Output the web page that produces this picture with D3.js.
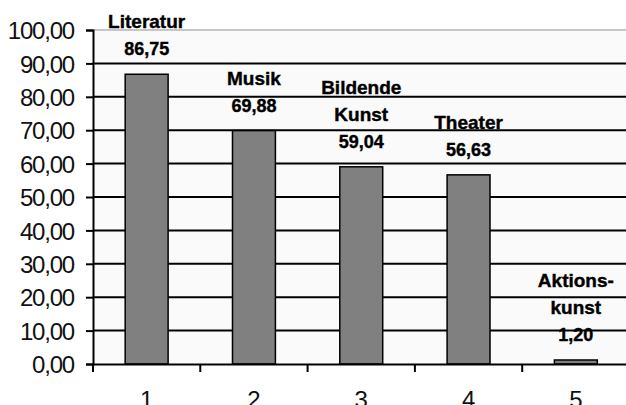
<!DOCTYPE html>
<html>
<head>
<meta charset="utf-8">
<script src="https://cdn.jsdelivr.net/npm/d3@7"></script>
<style>
  body { margin: 0; background: #fff; }
  text { font-family: "Liberation Sans", Arial, sans-serif; }
</style>
</head>
<body>
<div id="chart"></div>
<script>
const categories = [1, 2, 3, 4, 5];
const values = [86.75, 69.88, 59.04, 56.63, 1.20];
const names = [["Literatur"], ["Musik"], ["Bildende", "Kunst"], ["Theater"], ["Aktions-", "kunst"]];
const yTicks = [0, 10, 20, 30, 40, 50, 60, 70, 80, 90, 100];

const width = 626, height = 405;
const fmt = v => d3.format(".2f")(v).replace(".", ",");

const svg = d3.select('#chart')
    .append('svg')
    .attr('width', width)
    .attr('height', height);

const x = d3.scaleBand()
    .domain(categories)
    .range([93, 93 + 5 * 107.3])
    .padding(0);

const y = d3.scaleLinear()
    .domain([0, 100])
    .range([364, 30]);

// plot area
svg.append('rect')
    .attr('x', x.range()[0])
    .attr('y', y(100))
    .attr('width', width - x.range()[0])
    .attr('height', y(0) - y(100))
    .attr('fill', '#fafafa');

svg.append('line')
    .attr('x1', x.range()[0]).attr('x2', width)
    .attr('y1', y(100)).attr('y2', y(100))
    .attr('stroke', '#b4b4b4')
    .attr('stroke-width', 1.5);

// gridlines
svg.append('g')
    .selectAll('line')
    .data(yTicks.filter(d => d > 0 && d < 100))
    .enter()
    .append('line')
    .attr('x1', x.range()[0]).attr('x2', width)
    .attr('y1', d => y(d)).attr('y2', d => y(d))
    .attr('stroke', '#000')
    .attr('stroke-width', 2);

// bars
const barW = x.bandwidth() * 0.4;
svg.selectAll('.bar')
    .data(values)
    .enter()
    .append('rect')
    .attr('class', 'bar')
    .attr('x', (d, i) => x(categories[i]) + (x.bandwidth() - barW) / 2)
    .attr('y', d => y(d))
    .attr('width', barW)
    .attr('height', d => y(0) - y(d))
    .attr('fill', '#808080')
    .attr('stroke', '#000')
    .attr('stroke-width', 1.5);

// y axis
const yAxis = svg.append('g')
    .attr('transform', `translate(${x.range()[0]},0)`)
    .call(d3.axisLeft(y).tickValues(yTicks).tickSize(7).tickPadding(12).tickFormat(fmt));
yAxis.select('.domain').attr('stroke', '#000').attr('stroke-width', 2);
yAxis.selectAll('.tick line').attr('stroke', '#000').attr('stroke-width', 2);
yAxis.selectAll('.tick text')
    .attr('font-size', 24)
    .attr('letter-spacing', -1.2)
    .attr('fill', '#111')
    .attr('font-family', '"Liberation Sans", Arial, sans-serif')
    .attr('dy', '0.36em');

// x axis
const xAxis = svg.append('g')
    .attr('transform', `translate(0,${y(0)})`)
    .call(d3.axisBottom(x).tickSize(0).tickPadding(27));
xAxis.select('.domain').attr('stroke', '#000').attr('stroke-width', 2);
xAxis.selectAll('.tick text')
    .attr('font-size', 24)
    .attr('fill', '#111')
    .attr('font-family', '"Liberation Sans", Arial, sans-serif');
xAxis.selectAll('.sep')
    .data(categories)
    .enter()
    .append('line')
    .attr('class', 'sep')
    .attr('x1', d => x(d)).attr('x2', d => x(d))
    .attr('y1', 0).attr('y2', 8)
    .attr('stroke', '#000')
    .attr('stroke-width', 2);

// labels above bars
const lab = svg.append('g')
    .attr('font-weight', 'bold')
    .attr('text-anchor', 'middle')
    .attr('fill', '#000')
    .attr('stroke', '#000')
    .attr('stroke-width', 0.4);

values.forEach((v, i) => {
    const cx = x(categories[i]) + x.bandwidth() / 2;
    const base = y(v) - 19;
    lab.append('text')
        .attr('x', cx)
        .attr('y', base)
        .attr('font-size', 18)
        .text(fmt(v));
    names[i].forEach((n, j) => {
        lab.append('text')
            .attr('x', cx)
            .attr('y', base - 27 * (names[i].length - j))
            .attr('font-size', 19)
            .text(n);
    });
});
</script>
</body>
</html>
